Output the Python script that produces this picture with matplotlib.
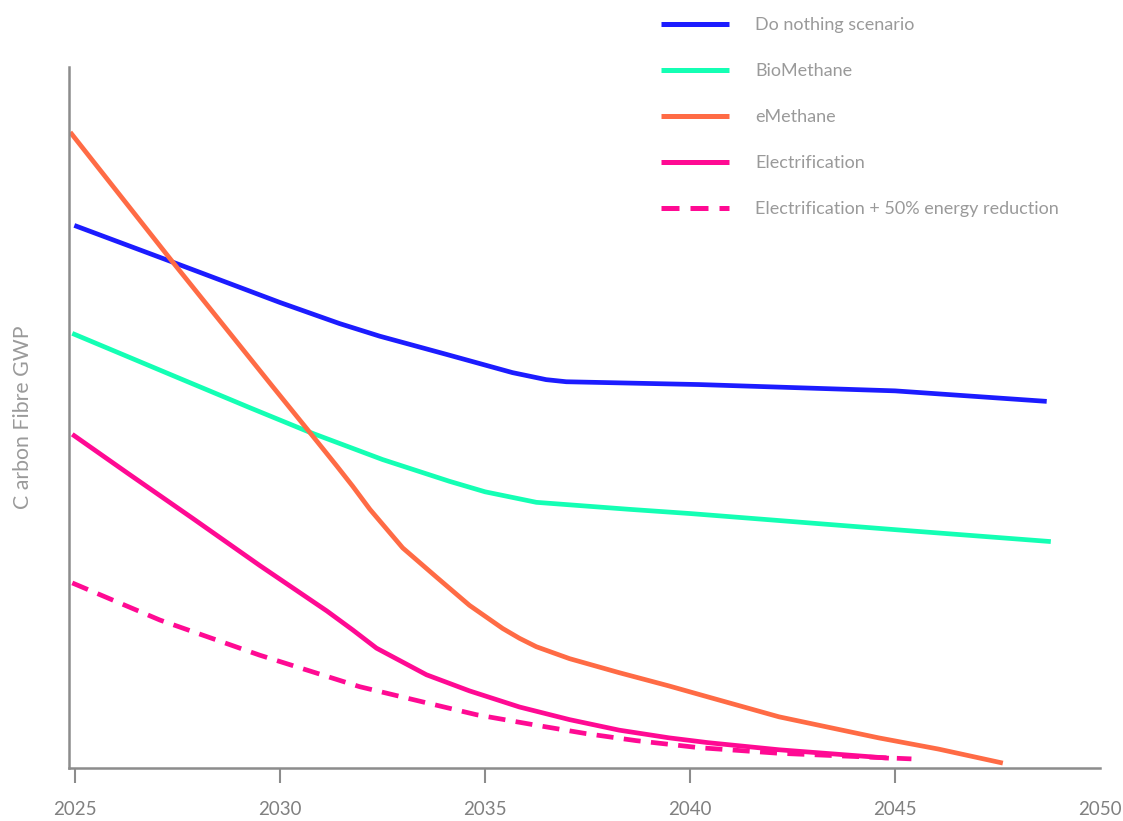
import matplotlib
matplotlib.use("Agg")
import matplotlib.pyplot as plt

plt.rcParams['font.family'] = ['Lato', 'DejaVu Sans']

# Scenario curves, carbon fibre GWP (relative units) by year
do_nothing_years = [2024.98, 2027.5, 2030.0, 2031.45, 2032.43, 2034.06, 2035.67, 2036.49,
                    2036.98, 2040.22, 2045.0, 2048.7]
do_nothing_gwp = [77.4, 71.9, 66.4, 63.4, 61.6, 59.0, 56.4, 55.4, 55.1, 54.7, 53.8, 52.3]

biomethane_years = [2024.93, 2027.5, 2029.26, 2030.72, 2032.5, 2034.13, 2035.0, 2036.25,
                    2038.52, 2040.0, 2045.0, 2048.8]
biomethane_gwp = [62.0, 55.7, 51.4, 47.9, 44.0, 40.9, 39.4, 37.9, 36.9, 36.3, 34.0, 32.3]

emethane_years = [2024.88, 2027.39, 2029.82, 2030.72, 2031.38, 2031.77, 2032.19, 2032.99,
                  2033.82, 2034.62, 2035.43, 2035.84, 2036.25, 2037.06, 2038.27, 2039.49,
                  2040.46, 2042.17, 2044.6, 2046.06, 2047.63]
emethane_gwp = [90.7, 72.1, 54.4, 47.9, 43.1, 40.2, 36.9, 31.4, 27.2, 23.2, 19.9, 18.5, 17.3,
                15.6, 13.6, 11.7, 10.1, 7.3, 4.3, 2.7, 0.7]

electrification_years = [2024.93, 2026.27, 2027.87, 2029.5, 2031.14, 2031.77, 2032.35, 2033.57,
                         2034.62, 2035.84, 2037.06, 2038.27, 2039.49, 2040.46, 2042.17, 2044.85]
electrification_gwp = [47.6, 42.1, 35.6, 28.9, 22.4, 19.7, 17.1, 13.3, 11.0, 8.7, 6.9, 5.4,
                       4.3, 3.6, 2.6, 1.4]

reduced_years = [2024.93, 2027.07, 2029.5, 2031.94, 2033.57, 2034.79, 2036.25, 2037.47,
                 2038.69, 2040.22, 2042.17, 2045.4]
reduced_gwp = [26.4, 21.1, 16.1, 11.6, 9.3, 7.6, 6.1, 4.9, 3.9, 2.9, 2.1, 1.3]

year_ticks = [2025, 2030, 2035, 2040, 2045, 2050]

BLUE = "#1c1cff"
GREEN = "#14ffb4"
ORANGE = "#ff6b45"
MAGENTA = "#ff0a93"
GREY = "#8c8c8c"
TEXT = "#9a9a9a"

fig = plt.figure(figsize=(11.23, 8.21), dpi=100)
ax = fig.add_axes([69 / 1123, 53 / 821, 1031 / 1123, 701 / 821])

lw = 3.4
style = dict(lw=lw, solid_joinstyle='round', solid_capstyle='butt')
ax.plot(do_nothing_years, do_nothing_gwp, color=BLUE, label="Do nothing scenario", **style)
ax.plot(biomethane_years, biomethane_gwp, color=GREEN, label="BioMethane", **style)
ax.plot(emethane_years, emethane_gwp, color=ORANGE, label="eMethane", **style)
ax.plot(electrification_years, electrification_gwp, color=MAGENTA, label="Electrification", **style)
ax.plot(reduced_years, reduced_gwp, color=MAGENTA, lw=lw, dashes=(3.6, 2.2), dash_capstyle='butt',
        label="Electrification + 50% energy reduction")

ax.set_xlim(2024.85, 2050)
ax.set_ylim(0, 100)

for side in ["top", "right"]:
    ax.spines[side].set_visible(False)
for side in ["left", "bottom"]:
    ax.spines[side].set_color(GREY)
    ax.spines[side].set_linewidth(1.8)

ax.set_yticks([])
ax.set_xticks(year_ticks)
ax.set_xticklabels([str(y) for y in year_ticks])
ax.tick_params(axis='x', length=11, width=1.5, color=GREY, labelcolor="#808080",
               labelsize=13.5, pad=13)
ax.xaxis.get_major_ticks()[-1].tick1line.set_visible(False)

ax.set_ylabel("C arbon Fibre GWP", color=TEXT, fontsize=15.3, labelpad=26)

leg = fig.legend(loc="upper left", bbox_to_anchor=(661 / 1123, 1 - 17 / 821),
                 frameon=False, fontsize=13, handlelength=3.75, handletextpad=1.45,
                 labelspacing=1.66, borderpad=0, borderaxespad=0)
for text in leg.get_texts():
    text.set_color(TEXT)
for line in leg.get_lines():
    line.set_linewidth(3.6)

fig.savefig("out.png", dpi=100)
